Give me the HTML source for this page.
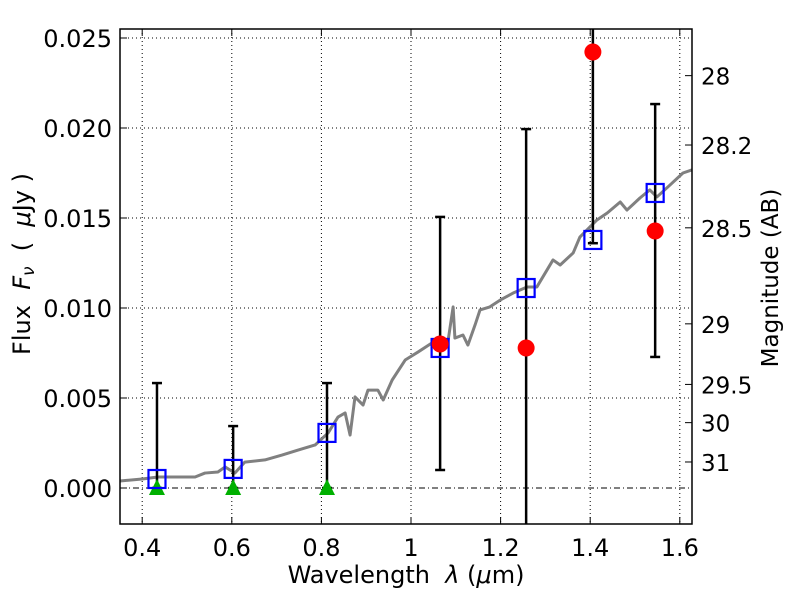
<!DOCTYPE html>
<html><head><meta charset="utf-8"><style>
body{margin:0;background:#fff}
svg{display:block;font-family:"DejaVu Sans","Liberation Sans",sans-serif}
</style></head><body>
<svg id="chart" width="800" height="600" xmlns="http://www.w3.org/2000/svg">
<g id="grid"></g>
<g id="plot"></g>
<g id="axes"></g>
<text x="406" y="583" font-size="24" text-anchor="middle" xml:space="preserve">Wavelength  <tspan font-style="italic">λ</tspan> (<tspan font-style="italic">μ</tspan>m)</text>
<text transform="translate(30,264) rotate(-90)" font-size="24" text-anchor="middle" xml:space="preserve">Flux  <tspan font-style="italic">F<tspan font-size="17" dy="4">ν</tspan></tspan><tspan dy="-4">  (  </tspan><tspan font-style="italic">μ</tspan>Jy )</text>
<text transform="translate(778,278) rotate(-90)" font-size="23" text-anchor="middle">Magnitude (AB)</text>
</svg>
<script>
const specLam=[0.350,0.400,0.435,0.489,0.518,0.540,0.569,0.585,0.596,0.607,0.629,0.674,0.712,0.748,0.786,0.815,0.837,0.853,0.864,0.875,0.893,0.904,0.926,0.938,0.958,0.987,1.016,1.047,1.083,1.094,1.098,1.116,1.127,1.143,1.154,1.176,1.199,1.228,1.259,1.281,1.317,1.333,1.362,1.377,1.415,1.438,1.467,1.482,1.511,1.533,1.549,1.578,1.607,1.627];
const specFlux=[.00039,.0005,.00061,.00061,.00061,.00083,.00089,.00117,.001,.00083,.00144,.00156,.00183,.00211,.00239,.00306,.00394,.00417,.00294,.00506,.00461,.00544,.00544,.00489,.006,.00711,.00756,.00806,.00822,.01006,.00833,.0085,.00794,.00906,.00989,.01006,.01044,.01083,.01117,.01117,.01267,.01239,.01306,.01394,.01489,.01528,.01589,.01544,.01611,.01656,.01617,.01683,.0175,.01767];
const bandLam=[0.433,0.603,0.8125,1.065,1.257,1.406,1.545];
const modelFlux=[0.0005,0.00106,0.00306,0.00778,0.01111,0.01378,0.01639];
const detLam=[1.065,1.257,1.406,1.545];
const detFlux=[0.0080,0.00778,0.02422,0.01428];
const limLam=[0.433,0.603,0.8125];
const limFlux=[0,0,0];
const errLo=[0,0,0,0.001,-0.0045,0.0136,0.00728];
const errHi=[0.00583,0.00344,0.00583,0.01506,0.01994,0.0275,0.02133];
const xTicks=[0.4,0.6,0.8,1.0,1.2,1.4,1.6];
const xTickLabels=["0.4","0.6","0.8","1","1.2","1.4","1.6"];
const yTicks=[0,0.005,0.01,0.015,0.02,0.025];
const yTickLabels=["0.000","0.005","0.010","0.015","0.020","0.025"];
const magTicks=[28,28.2,28.5,29,29.5,30,31];
const magTickLabels=["28","28.2","28.5","29","29.5","30","31"];

const L=120,R=692,T=29,B=524;
const X=l=>411+(l-1)*448;
const Y=f=>488-f*18000;
const NS="http://www.w3.org/2000/svg";
function mk(parent,tag,attrs){const e=document.createElementNS(NS,tag);for(const k in attrs)e.setAttribute(k,attrs[k]);document.getElementById(parent).appendChild(e);return e;}
const cy=v=>Math.max(T,Math.min(B,v));

xTicks.forEach((t,i)=>{
  const g=mk('grid','line',{x1:X(t),x2:X(t),y1:T,y2:B,stroke:'#000','stroke-width':1,'stroke-dasharray':'1,3'});
  
  
});
yTicks.forEach((t,i)=>{
  const g=mk('grid','line',{x1:L,x2:R,y1:Y(t),y2:Y(t),stroke:'#000','stroke-width':1,'stroke-dasharray':t===0?'6,3,1,3':'1,3'});
  
  
});
const sp=mk('plot','polyline',{points:specLam.map((l,i)=>X(l)+','+Y(specFlux[i])).join(' '),fill:'none',stroke:'#808080','stroke-width':3,'stroke-linejoin':'round'});


bandLam.forEach((l,i)=>{
  const x=X(l),y1=Y(errHi[i]),y2=Y(errLo[i]);
  const e=mk('plot','line',{x1:x,x2:x,y1:cy(y1),y2:cy(y2),stroke:'#000','stroke-width':2.5});
  
  
  if(y1>=T){const c=mk('plot','line',{x1:x-5,x2:x+5,y1:y1,y2:y1,stroke:'#000','stroke-width':2.5});}
  if(y2<=B){const c=mk('plot','line',{x1:x-5,x2:x+5,y1:y2,y2:y2,stroke:'#000','stroke-width':2.5});}
});
limLam.forEach((l,i)=>{
  const x=X(l),y=Y(limFlux[i]);
  const t=mk('plot','polygon',{points:`${x},${y-9} ${x-8},${y+7} ${x+8},${y+7}`,fill:'#00b000'});
  
  
});
bandLam.forEach((l,i)=>{
  const s=mk('plot','rect',{x:X(l)-8.5,y:Y(modelFlux[i])-9,width:17,height:18,fill:'none',stroke:'#0000ff','stroke-width':2.2});
  
  
});
detLam.forEach((l,i)=>{
  const c=mk('plot','circle',{cx:X(l),cy:Y(detFlux[i]),r:8.5,fill:'#ff0000'});
  
  
});
const fr=mk('axes','rect',{x:L,y:T,width:R-L,height:B-T,fill:'none',stroke:'#000','stroke-width':1.5});


xTicks.forEach((t,i)=>{
  mk('axes','line',{x1:X(t),x2:X(t),y1:B,y2:B-7,stroke:'#000'});
  mk('axes','line',{x1:X(t),x2:X(t),y1:T,y2:T+7,stroke:'#000'});
  const tx=mk('axes','text',{x:X(t),y:B+32,'font-size':24,'text-anchor':'middle'});
  tx.textContent=xTickLabels[i];
  
  
});
yTicks.forEach((t,i)=>{
  mk('axes','line',{x1:L,x2:L+7,y1:Y(t),y2:Y(t),stroke:'#000'});
  const tx=mk('axes','text',{x:L-8,y:Y(t)+9,'font-size':24,'text-anchor':'end'});
  tx.textContent=yTickLabels[i];
  
  
});
magTicks.forEach((m,i)=>{
  const y=Y(Math.pow(10,(23.9-m)/2.5));
  mk('axes','line',{x1:R,x2:R-7,y1:y,y2:y,stroke:'#000'});
  const tx=mk('axes','text',{x:R+9,y:y+9,'font-size':23,'text-anchor':'start'});
  tx.textContent=magTickLabels[i];
  
  
});
</script>
</body></html>
